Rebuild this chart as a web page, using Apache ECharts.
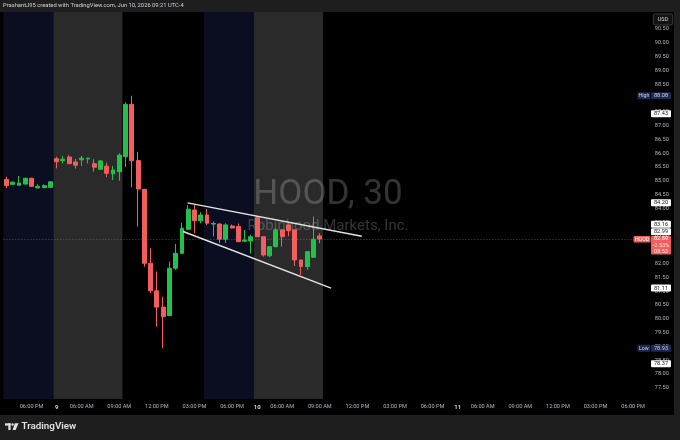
<!DOCTYPE html>
<html><head><meta charset="utf-8">
<script src="https://cdn.jsdelivr.net/npm/echarts@6/dist/echarts.min.js"></script>
<style>html,body{margin:0;padding:0;background:#1e1e1e}#c{width:680px;height:440px}</style>
</head><body><div id="c"></div>
<script>
// ---------- data ----------
const sessionDays = [['06-08',16,20],['06-09',4,20],['06-10',4,20],['06-11',4,20]];
// candles: [open, close, low, high], starting at slot '06-08 16:00', 30-min bars
const candles = [
 [85.05,84.82,84.73,85.15],[84.87,84.95,84.85,84.97],[84.84,84.92,84.82,85.17],[84.88,85.09,84.86,85.11],
 [85.09,84.80,84.78,85.11],[84.74,84.80,84.73,84.87],[84.75,84.82,84.74,84.87],[84.76,84.96,84.75,84.97],
 [85.80,85.69,85.45,85.87],[85.73,85.78,85.63,85.90],[85.86,85.62,85.60,85.93],[85.68,85.56,85.44,85.79],
 [85.76,85.82,85.54,85.90],[85.79,85.82,85.63,85.83],[85.62,85.49,85.33,85.78],[85.42,85.72,85.39,85.74],
 [85.53,85.27,85.13,85.66],[85.25,85.39,85.03,85.54],[85.33,85.93,85.00,86.00],[85.87,87.77,85.49,87.84],
 [87.77,85.73,84.76,88.08],[85.73,84.70,83.34,86.05],[84.69,82.01,81.89,84.70],[82.01,81.01,80.92,82.55],
 [81.01,80.42,79.71,81.71],[80.42,80.08,78.93,80.80],[80.11,81.83,80.10,82.07],[81.83,82.37,81.77,82.71],
 [82.37,83.28,82.36,83.48],[83.24,83.97,83.22,84.12],[83.94,83.55,83.10,84.12],[83.55,83.76,83.46,83.86],
 [83.76,83.46,83.40,83.98],[83.43,83.45,82.98,83.52],[83.43,82.88,82.74,83.46],[82.88,83.40,82.74,83.46],
 [83.36,83.29,83.27,83.41],[83.34,82.79,82.78,83.45],[82.81,82.85,82.78,83.22],[82.82,82.97,82.37,83.04],
 [83.66,82.97,82.96,83.72],[82.97,82.31,82.25,82.97],[82.28,82.61,82.23,82.61],[82.61,83.22,82.60,83.29],
 [83.22,82.97,82.61,83.24],[83.40,83.19,82.99,83.46],[83.22,82.13,81.91,83.22],[82.13,81.89,81.59,82.13],
 [81.89,82.43,81.77,82.45],[82.23,82.88,82.20,83.70],[83.00,82.89,82.74,83.10]
];
const timeTicks = [
 ['06-08 18:00','06:00 PM'],['06-09 04:00','9'],['06-09 06:00','06:00 AM'],['06-09 09:00','09:00 AM'],
 ['06-09 12:00','12:00 PM'],['06-09 15:00','03:00 PM'],['06-09 18:00','06:00 PM'],['06-10 04:00','10'],
 ['06-10 06:00','06:00 AM'],['06-10 09:00','09:00 AM'],['06-10 12:00','12:00 PM'],['06-10 15:00','03:00 PM'],
 ['06-10 18:00','06:00 PM'],['06-11 04:00','11'],['06-11 06:00','06:00 AM'],['06-11 09:00','09:00 AM'],
 ['06-11 12:00','12:00 PM'],['06-11 15:00','03:00 PM'],['06-11 18:00','06:00 PM']
];
const priceTicks = [77.5,78,78.5,79,79.5,80,80.5,81,81.5,82,82.5,83,83.5,84,84.5,85,85.5,86,86.5,87,87.5,88,88.5,89,89.5,90,90.5];
const sessionBands = [['06-08 16:00','06-08 19:30','post'],['06-09 04:00','06-09 09:00','pre'],['06-09 16:00','06-09 19:30','post'],['06-10 04:00','06-10 09:00','pre']];
// trendlines: [slot position, price]
const upperTrend = [[28.9,84.20],[56.7,82.99]];
const lowerTrend = [[28.2,83.16],[51.8,81.11]];
const axisTags = [[88.08,'extreme','High'],[87.43,'drawing',''],[84.20,'drawing',''],[83.16,'drawing',''],[82.99,'drawing',''],[81.11,'drawing',''],[78.93,'extreme','Low'],[78.37,'drawing','']];
const lastPrice = 82.89, lastChange = '-2.53%', barCountdown = '08:53', symbolName = 'HOOD';

// ---------- layout ----------
const NSLOT = 103, SLOT = 6.266, GL = 3.37, GT = 12, GH = 387;
const GW = NSLOT * SLOT;
const AX = 651, AW = 20;
const UP = '#22c24a', DOWN = '#f25d5d';
const FONT = 'Roboto, "Noto Sans", sans-serif';

const slots = [];
sessionDays.forEach(([d, h0, h1]) => { for (let h = h0; h < h1; h++) ['00','30'].forEach(m => slots.push(d + ' ' + String(h).padStart(2,'0') + ':' + m)); });
slots.length = NSLOT;
const tickMap = new Map(timeTicks);

const bandData = sessionBands.map(([a, b, t]) => [
  {xAxis: slots.indexOf(a) - 0.5, itemStyle: {color: t === 'pre' ? '#2a2a2a' : '#0b0d20'}},
  {xAxis: slots.indexOf(b) + 0.5}
]);

function renderTag(params, api) {
  const yOf = p => api.coord([0, p])[1];
  const yMain = yOf(lastPrice);
  const mainTop = yMain - 3, mainBot = mainTop + 18.5, H = 7;
  const pos = axisTags.map(t => yOf(t[0]));
  const order = axisTags.map((t, i) => i);
  const above = order.filter(i => pos[i] < yMain).sort((a, b) => pos[b] - pos[a]);
  const below = order.filter(i => pos[i] >= yMain).sort((a, b) => pos[a] - pos[b]);
  const disp = pos.slice();
  let lim = mainTop;
  above.forEach(i => { disp[i] = Math.min(pos[i], lim - 0.6 - H / 2); lim = disp[i] - H / 2; });
  lim = mainBot;
  below.forEach(i => { disp[i] = Math.max(pos[i], lim + 0.6 + H / 2); lim = disp[i] + H / 2; });
  const idx = params.dataIndex;
  const txt = (s, x, y, fill, size, weight) => ({type: 'text', style: {text: s, x: x, y: y, fill: fill, fontSize: size || 5.6, fontFamily: FONT, fontWeight: weight || 'normal', align: 'center', verticalAlign: 'middle'}});
  if (idx === axisTags.length) {
    return {type: 'group', children: [
      {type: 'rect', shape: {x: AX, y: mainTop, width: AW, height: 18.5, r: 1}, style: {fill: DOWN}},
      txt(String(lastPrice.toFixed(2)), AX + AW / 2, yMain, '#ffffff'),
      txt(lastChange, AX + AW / 2, yMain + 6.3, '#ffe4e4'),
      txt(barCountdown, AX + AW / 2, yMain + 12.3, '#ffe4e4'),
      {type: 'rect', shape: {x: 633.5, y: yMain - 3, width: 17, height: 6.6, r: 1}, style: {fill: DOWN}},
      txt(symbolName, 642, yMain + 0.3, '#ffffff', 5.2)
    ]};
  }
  const t = axisTags[idx], y = disp[idx];
  const ext = t[1] === 'extreme';
  const ch = [
    {type: 'rect', shape: {x: AX, y: y - H / 2, width: AW, height: H, r: 1}, style: {fill: ext ? '#1c2a55' : '#ffffff'}},
    txt(t[0].toFixed(2), AX + AW / 2, y + 0.2, ext ? '#d1d4dc' : '#131722')
  ];
  if (ext) {
    ch.push({type: 'rect', shape: {x: 637.5, y: y - H / 2, width: 12.8, height: H, r: 1}, style: {fill: '#1c2a55'}});
    ch.push(txt(t[2], 643.9, y + 0.2, '#d1d4dc', 5.2));
  }
  return {type: 'group', children: ch};
}

const chart = echarts.init(document.getElementById('c'), null, {renderer: 'canvas'});
chart.setOption({
  animation: false,
  backgroundColor: '#1e1e1e',
  grid: {left: GL, top: GT, width: GW, height: GH, containLabel: false},
  xAxis: [{
    type: 'category', data: slots, boundaryGap: true,
    axisLine: {show: false}, axisTick: {show: false}, splitLine: {show: false},
    axisLabel: {
      interval: (i, v) => tickMap.has(v), hideOverlap: false, margin: 5,
      color: '#b2b5be', fontSize: 5.6, fontFamily: FONT,
      formatter: v => { const s = tickMap.get(v) || ''; return /^\d+$/.test(s) ? '{b|' + s + '}' : s; },
      rich: {b: {fontWeight: 'bold', fontSize: 6, color: '#d1d4dc', fontFamily: FONT}}
    }
  }, {
    type: 'value', min: -0.5, max: NSLOT - 0.5, show: false
  }],
  yAxis: {
    type: 'value', position: 'right', min: 77.09, max: 91.116, scale: true,
    axisLine: {show: false}, axisTick: {show: false}, splitLine: {show: false},
    axisLabel: {customValues: priceTicks, formatter: v => v.toFixed(2), color: '#b2b5be', fontSize: 5.6, fontFamily: FONT, margin: 6, align: 'left'}
  },
  graphic: [
    {type: 'rect', z: -5, shape: {x: 0, y: 12, width: 674, height: 403}, style: {fill: '#000000'}},
    {type: 'text', z: 2, style: {text: 'HOOD, 30', x: 328, y: 195, fill: 'rgba(255,255,255,0.2)', fontSize: 35, fontFamily: FONT, align: 'center', verticalAlign: 'middle'}},
    {type: 'text', z: 2, style: {text: 'Robinhood Markets, Inc.', x: 328, y: 226, fill: 'rgba(255,255,255,0.2)', fontSize: 15, fontFamily: FONT, align: 'center', verticalAlign: 'middle'}},
    {type: 'text', z: 10, style: {text: 'PrashantJ95 created with TradingView.com, Jun 10, 2026 09:21 UTC-4', x: 3, y: 6, fill: '#d1d4dc', fontSize: 5.8, fontFamily: FONT, align: 'left', verticalAlign: 'middle'}},
    {type: 'rect', z: 10, shape: {x: 653.3, y: 14, width: 19.4, height: 11, r: 2}, style: {fill: '#121212', stroke: '#444444', lineWidth: 0.8}},
    {type: 'text', z: 11, style: {text: 'USD', x: 663, y: 19.6, fill: '#d1d4dc', fontSize: 5.6, fontFamily: FONT, align: 'center', verticalAlign: 'middle'}},
    {type: 'rect', z: 10, shape: {x: 5, y: 423.3, width: 5.6, height: 2.3}, style: {fill: '#e0e0e0'}},
    {type: 'rect', z: 10, shape: {x: 8.3, y: 423.3, width: 2.3, height: 6.7}, style: {fill: '#e0e0e0'}},
    {type: 'circle', z: 10, shape: {cx: 12.6, cy: 424.5, r: 1.2}, style: {fill: '#e0e0e0'}},
    {type: 'polygon', z: 10, shape: {points: [[14.8,423.3],[18.6,423.3],[15.6,430],[12.6,430]]}, style: {fill: '#e0e0e0'}},
    {type: 'text', z: 10, style: {text: 'TradingView', x: 21.5, y: 427, fill: '#e0e0e0', fontSize: 9.8, fontWeight: 600, fontFamily: FONT, align: 'left', verticalAlign: 'middle'}}
  ],
  series: [
    {
      type: 'line', xAxisIndex: 1, data: [[0, 80]], showSymbol: false, symbol: 'none', lineStyle: {opacity: 0, width: 0}, silent: true, z: 1,
      markArea: {silent: true, z: 1, data: bandData}
    },
    {
      type: 'candlestick', xAxisIndex: 0, data: candles, barWidth: 4.4, z: 3,
      itemStyle: {color: UP, color0: DOWN, borderColor: UP, borderColor0: DOWN, borderWidth: 1},
      markLine: {silent: true, symbol: 'none', z: 2, label: {show: false},
        lineStyle: {color: DOWN, type: [1, 2], width: 1, opacity: 0.55},
        data: [{yAxis: lastPrice}]}
    },
    {type: 'line', xAxisIndex: 1, data: upperTrend, symbol: 'none', z: 4, silent: true, lineStyle: {color: '#e4e4e4', width: 1.4}},
    {type: 'line', xAxisIndex: 1, data: lowerTrend, symbol: 'none', z: 4, silent: true, lineStyle: {color: '#e4e4e4', width: 1.4}},
    {
      type: 'custom', xAxisIndex: 1, z: 8, clip: false, silent: true,
      data: axisTags.map(t => [0, t[0]]).concat([[0, lastPrice]]),
      renderItem: renderTag
    }
  ]
});
</script></body></html>
